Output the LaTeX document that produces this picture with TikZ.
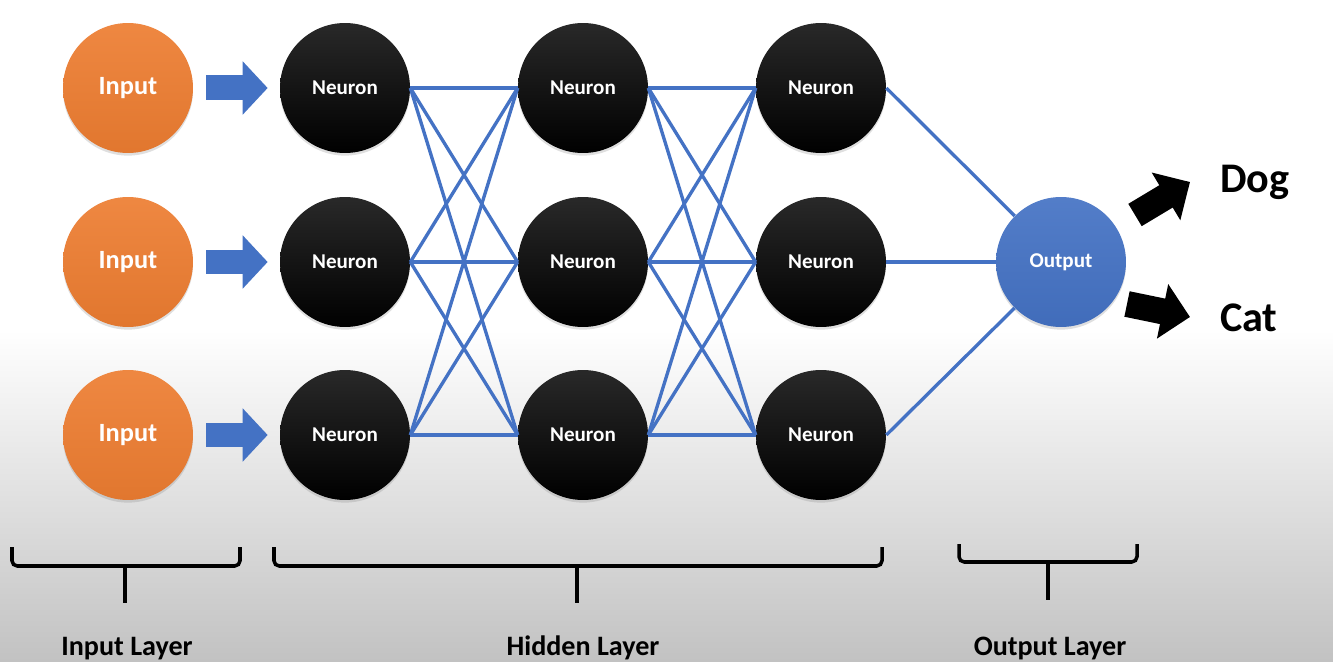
\documentclass[tikz,border=0pt]{standalone}
\usepackage{fontspec}
\setmainfont{Carlito}
\usepackage{tikz}
\usetikzlibrary{arrows,arrows.meta,shadows}

\definecolor{netblue}{RGB}{68,114,196}
\definecolor{netorange}{RGB}{237,125,49}

\begin{document}
\begin{tikzpicture}[x=0.02cm, y=-0.02cm,
        unit/.style={circle, minimum size=2.6cm, inner sep=0pt, text=white,
                drop shadow={opacity=0.25, shadow xshift=0pt, shadow yshift=-1.5pt}},
        inputunit/.style={unit, top color=netorange!92!white, bottom color=netorange!95!black,
                font=\fontsize{15}{18}\selectfont\bfseries},
        neuron/.style={unit, top color=black!84, bottom color=black,
                font=\fontsize{12}{14}\selectfont\bfseries},
        outunit/.style={unit, top color=netblue!92!white, bottom color=netblue!95!black,
                font=\fontsize{12}{14}\selectfont\bfseries},
        link/.style={draw=netblue, line width=1.9pt},
        feed/.style={draw=netblue, line width=0.5cm, -{Triangle[width=1.04cm,length=0.5cm]},
                shorten <=0.26cm, shorten >=0.24cm},
        pointer/.style={draw=black, line width=0.52cm, -{Triangle[width=1.08cm,length=0.56cm]}},
        brace/.style={draw=black, line width=2pt, rounded corners=3pt},
        classname/.style={anchor=base west, font=\fontsize{24}{28}\selectfont\bfseries},
        layername/.style={anchor=base, font=\fontsize{16}{19}\selectfont\bfseries}]

        % background
        \useasboundingbox (0,0) rectangle (1333,662);
        \fill[white] (0,0) rectangle (1333,330);
        \shade[top color=white, bottom color=black!24] (0,330) rectangle (1333,662);

        % the units
        \node[inputunit] (in1) at (128,88) {Input};
        \node[inputunit] (in2) at (128,262) {Input};
        \node[inputunit] (in3) at (128,435) {Input};

        \node[neuron] (a1) at (345,88) {Neuron};
        \node[neuron] (a2) at (345,262) {Neuron};
        \node[neuron] (a3) at (345,435) {Neuron};
        \node[neuron] (b1) at (583,88) {Neuron};
        \node[neuron] (b2) at (583,262) {Neuron};
        \node[neuron] (b3) at (583,435) {Neuron};
        \node[neuron] (c1) at (821,88) {Neuron};
        \node[neuron] (c2) at (821,262) {Neuron};
        \node[neuron] (c3) at (821,435) {Neuron};

        \node[outunit] (out) at (1061,262) {Output};

        % the texts
        \node[classname] (dog) at (1214,193) {Dog};
        \node[classname] (cat) at (1214,332) {Cat};

        \node[layername] (inlayer) at (127,655) {Input Layer};
        \node[layername] (hidlayer) at (583,655) {Hidden Layer};
        \node[layername] (outlayer) at (1050,655) {Output Layer};

        % draw the arrows
        \draw[feed] (in1.east) -- (a1.west);
        \draw[feed] (in2.east) -- (a2.west);
        \draw[feed] (in3.east) -- (a3.west);

        \coordinate (dogtail) at (1135,215);
        \coordinate (dogtip) at (1190,182);
        \coordinate (cattail) at (1127,304);
        \coordinate (cattip) at (1190,317);
        \draw[pointer] (dogtail) -- (dogtip);
        \draw[pointer] (cattail) -- (cattip);

        % draw the weights
        \draw[link] (a1.east) -- (b1.west);
        \draw[link] (a1.east) -- (b2.west);
        \draw[link] (a1.east) -- (b3.west);
        \draw[link] (a2.east) -- (b1.west);
        \draw[link] (a2.east) -- (b2.west);
        \draw[link] (a2.east) -- (b3.west);
        \draw[link] (a3.east) -- (b1.west);
        \draw[link] (a3.east) -- (b2.west);
        \draw[link] (a3.east) -- (b3.west);

        \draw[link] (b1.east) -- (c1.west);
        \draw[link] (b1.east) -- (c2.west);
        \draw[link] (b1.east) -- (c3.west);
        \draw[link] (b2.east) -- (c1.west);
        \draw[link] (b2.east) -- (c2.west);
        \draw[link] (b2.east) -- (c3.west);
        \draw[link] (b3.east) -- (c1.west);
        \draw[link] (b3.east) -- (c2.west);
        \draw[link] (b3.east) -- (c3.west);

        \draw[link] (c1.east) -- (out);
        \draw[link] (c2.east) -- (out);
        \draw[link] (c3.east) -- (out);

        % the braces
        \draw[brace] (12,547) -- (12,566) -- (240,566) -- (240,547);
        \draw[brace] (125,566) -- (125,603);
        \draw[brace] (274,547) -- (274,566) -- (882,566) -- (882,547);
        \draw[brace] (577,566) -- (577,603);
        \draw[brace] (959,544) -- (959,562) -- (1137,562) -- (1137,544);
        \draw[brace] (1048,562) -- (1048,600);

    \end{tikzpicture}
\end{document}
